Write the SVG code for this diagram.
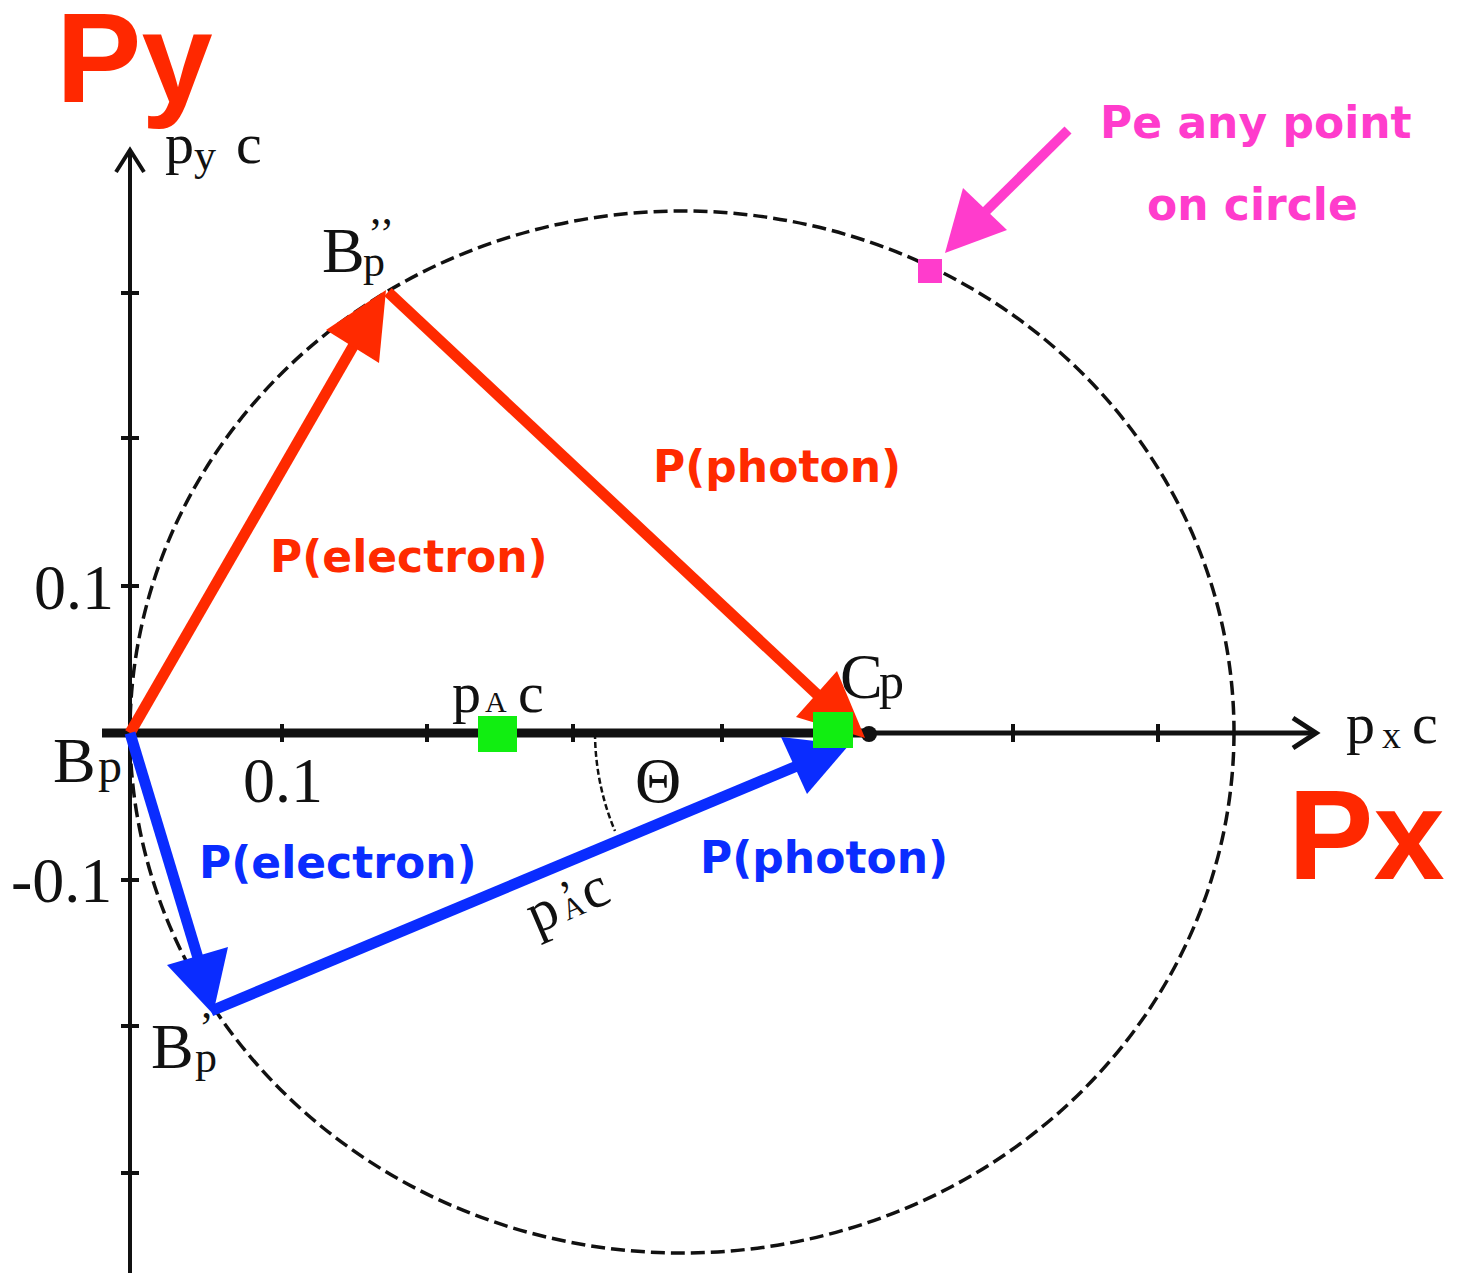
<svg xmlns="http://www.w3.org/2000/svg" width="1474" height="1273" viewBox="0 0 1474 1273">
<style>
.serif{font-family:"Liberation Serif","Times New Roman",serif;fill:#111}
.big{font-family:"Liberation Sans",Arial,sans-serif;font-weight:bold;fill:#ff2800;font-size:128px}
.lab{font-family:"DejaVu Sans",Verdana,sans-serif;font-weight:bold;font-size:44px}
.red{fill:#ff2a00}
.blue{fill:#0a2cff}
.pink{fill:#ff3ccc}
.ax{stroke:#111;fill:none;stroke-linecap:butt}
.tick{stroke:#111;stroke-width:4}
</style>
<rect width="1474" height="1273" fill="#fff"/>

<g id="axes">
  <line class="ax" x1="130" y1="150" x2="130" y2="1273" stroke-width="4"/>
  <polyline class="ax" points="116,172 130,150 144,172" stroke-width="4"/>
  <line class="ax" x1="868" y1="733" x2="1316" y2="733" stroke-width="5"/>
  <line class="ax" x1="102" y1="733" x2="868" y2="733" stroke-width="9"/>
  <polyline class="ax" points="1293,718 1316,733 1293,748" stroke-width="5"/>
  <g class="tick">
    <line x1="282" y1="724" x2="282" y2="742"/>
    <line x1="427" y1="724" x2="427" y2="742"/>
    <line x1="573" y1="724" x2="573" y2="742"/>
    <line x1="722" y1="724" x2="722" y2="742"/>
    <line x1="1013" y1="724" x2="1013" y2="742"/>
    <line x1="1158" y1="724" x2="1158" y2="742"/>
    <line x1="121" y1="293" x2="139" y2="293"/>
    <line x1="121" y1="438" x2="139" y2="438"/>
    <line x1="121" y1="586" x2="139" y2="586"/>
    <line x1="121" y1="880" x2="139" y2="880"/>
    <line x1="121" y1="1026" x2="139" y2="1026"/>
    <line x1="121" y1="1173" x2="139" y2="1173"/>
  </g>
  <circle cx="869" cy="734" r="8" fill="#111"/>
</g>

<g id="circle">
  <ellipse cx="682" cy="732" rx="552" ry="521" fill="none" stroke="#111" stroke-width="3.5" stroke-dasharray="14 6"/>
</g>

<g id="connectors">
  <g id="red-electron">
    <line x1="130" y1="733" x2="355" y2="343" stroke="#ff2a00" stroke-width="11"/>
    <polygon points="386,290 326,330 379,363" fill="#ff2a00"/>
  </g>
  <g id="red-photon">
    <line x1="388" y1="292" x2="822" y2="699" stroke="#ff2a00" stroke-width="11"/>
    <polygon points="796,717 837,671 865,738" fill="#ff2a00"/>
  </g>
  <g id="blue-electron">
    <line x1="130" y1="733" x2="198" y2="958" stroke="#0a2cff" stroke-width="11"/>
    <polygon points="167,965 228,947 213,1014" fill="#0a2cff"/>
  </g>
  <g id="blue-photon">
    <line x1="211" y1="1011" x2="797" y2="766" stroke="#0a2cff" stroke-width="11"/>
    <polygon points="781,737 807,794 849,745" fill="#0a2cff"/>
  </g>
  <g id="pink-arrow">
    <line x1="1068" y1="130" x2="983" y2="214" stroke="#ff3ccc" stroke-width="10"/>
    <polygon points="963,188 1007,230 945,253" fill="#ff3ccc"/>
  </g>
  <path id="theta-arc" d="M 595 733 A 255 255 0 0 0 615 831" fill="none" stroke="#111" stroke-width="2.5" stroke-dasharray="6 3"/>
</g>

<g id="points">
  <rect id="pA" x="478" y="716" width="39" height="36" fill="#11ee11"/>
  <rect id="pC" x="813" y="712" width="40" height="36" fill="#11ee11"/>
  <rect id="pe" x="918" y="259" width="24" height="24" fill="#ff3ccc"/>
</g>

<g id="titles">
  <text class="big" x="56" y="102">Py</text>
  <text class="big" x="1288" y="879">Px</text>
</g>

<g id="axis-labels" class="serif">
  <text x="165" y="163" font-size="58">p</text>
  <text x="194" y="170" font-size="44">y</text>
  <text x="236" y="163" font-size="58">c</text>
  <text x="1346" y="743" font-size="58">p</text>
  <text x="1382" y="748" font-size="38">x</text>
  <text x="1412" y="743" font-size="58">c</text>
  <text x="34" y="609" font-size="64">0.1</text>
  <text x="243" y="802" font-size="64">0.1</text>
  <text x="11" y="902" font-size="64">-0.1</text>
</g>

<g id="point-labels" class="serif">
  <g id="Bp2"><text x="322" y="272" font-size="64">B</text><text x="363" y="276" font-size="44">p</text><text x="368" y="248" font-size="44">’’</text></g>
  <g id="Bp"><text x="53" y="782" font-size="64">B</text><text x="98" y="782" font-size="48">p</text></g>
  <g id="Bp1"><text x="151" y="1068" font-size="64">B</text><text x="195" y="1072" font-size="44">p</text><text x="199" y="1042" font-size="44">’</text></g>
  <g id="Cp"><text x="840" y="698" font-size="64">C</text><text x="879" y="698" font-size="50">p</text></g>
  <g id="pAc"><text x="452" y="712" font-size="58">p</text><text x="485" y="712" font-size="30">A</text><text x="518" y="712" font-size="58">c</text></g>
  <g id="theta"><text x="635" y="802" font-size="64">Θ</text></g>
  <g id="pAc2" transform="translate(536,934) rotate(-23)">
    <text x="0" y="0" font-size="58">p</text>
    <text x="34" y="0" font-size="30">A</text>
    <text x="38" y="-8" font-size="44">’</text>
    <text x="58" y="0" font-size="58">c</text>
  </g>
</g>

<g id="vector-labels" class="lab">
  <text class="red" x="270" y="572">P(electron)</text>
  <text class="red" x="653" y="482">P(photon)</text>
  <text class="blue" x="199" y="878">P(electron)</text>
  <text class="blue" x="700" y="873">P(photon)</text>
  <text class="pink" x="1100" y="138">Pe any point</text>
  <text class="pink" x="1147" y="220">on circle</text>
</g>
</svg>
